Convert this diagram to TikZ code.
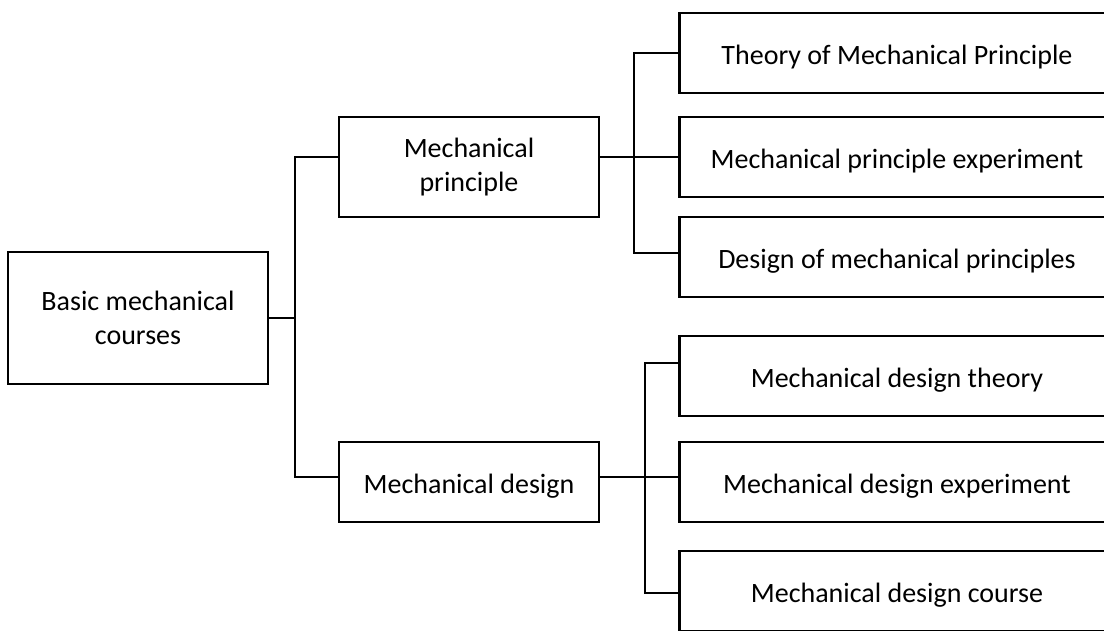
\documentclass[tikz,border=0pt]{standalone}
\usepackage{fontspec}
\setmainfont{Carlito}
\usetikzlibrary{positioning}

\begin{document}
\begin{tikzpicture}[
    x=1pt, y=-1pt,
    box/.style={draw, line width=2.6pt, align=center, inner sep=0pt,
                minimum width=260pt, minimum height=80pt,
                font=\fontsize{28}{34}\selectfont},
    onebox/.style={box, text height=28pt, text depth=6pt},
    leaf/.style={onebox, minimum width=435pt},
    link/.style={line width=1.5pt}
  ]
  \useasboundingbox (0,0) rectangle (1104,630);
  \clip (0,0) rectangle (1104,630);
  % courses tree
  \node[box, minimum height=132pt] (root) at (138,318) {Basic mechanical\\courses};
  \node[box, minimum height=100pt] (mp) at (469,167) {Mechanical\\principle};
  \node[onebox] (md) at (469,482) {Mechanical design};
  \node[leaf] (c1) at (897,53) {Theory of Mechanical Principle};
  \node[leaf] (c2) at (897,157) {Mechanical principle experiment};
  \node[leaf] (c3) at (897,257) {Design of mechanical principles};
  \node[leaf] (c4) at (897,376) {Mechanical design theory};
  \node[leaf] (c5) at (897,482) {Mechanical design experiment};
  \node[leaf] (c6) at (897,591) {Mechanical design course};
  \coordinate (j1) at (295,318);
  \coordinate (j2) at (634,157);
  \coordinate (j3) at (645,477);
  \draw[link] (root.east) -- (j1);
  \draw[link] ([yshift=10pt]mp.west) -| (j1) |- ([yshift=5pt]md.west);
  \draw[link] ([yshift=10pt]mp.east) -- (j2);
  \draw[link] (c1.west) -| (j2) |- ([yshift=4pt]c3.west);
  \draw[link] (j2) -- (c2.west);
  \draw[link] ([yshift=5pt]md.east) -- (j3);
  \draw[link] ([yshift=13pt]c4.west) -| (j3) |- ([yshift=-2pt]c6.west);
  \draw[link] (j3) -- ([yshift=5pt]c5.west);
\end{tikzpicture}
\end{document}
